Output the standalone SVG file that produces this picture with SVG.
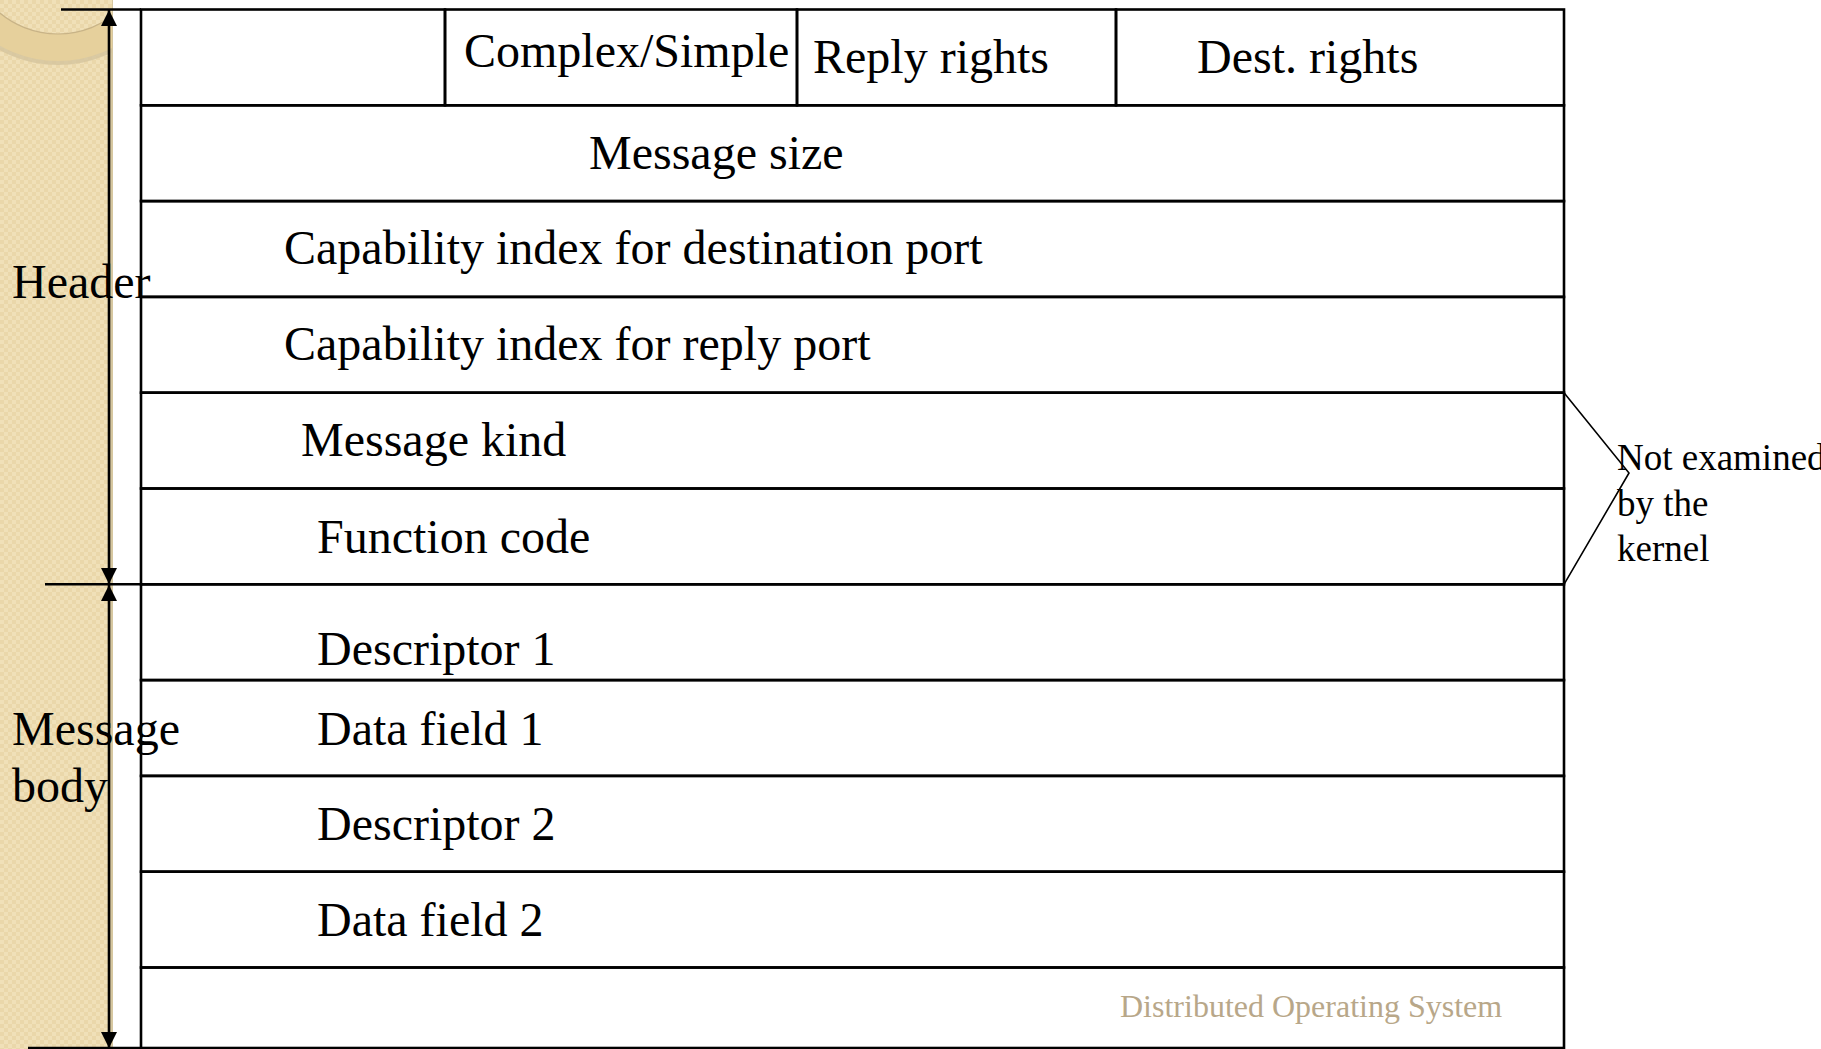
<svg xmlns="http://www.w3.org/2000/svg" width="1821" height="1049" viewBox="0 0 1821 1049">
  <style>
    .ln { stroke: #000; stroke-width: 2.6; fill: none; }
    .t { font-family: "Liberation Serif", "Times New Roman", serif; font-size: 48px; fill: #000; }
    .s { font-family: "Liberation Serif", "Times New Roman", serif; font-size: 37px; fill: #000; }
    .f { font-family: "Liberation Serif", "Times New Roman", serif; font-size: 32px; fill: #B8A789; }
  </style>
  <defs>
    <pattern id="chk" width="8" height="8" patternUnits="userSpaceOnUse">
      <rect width="8" height="8" fill="#F0E0B8"/>
      <rect width="4" height="4" fill="#EAD7AA"/>
      <rect x="4" y="4" width="4" height="4" fill="#EAD7AA"/>
    </pattern>
    <clipPath id="band"><rect x="0" y="0" width="112" height="1049"/></clipPath>
    <marker id="ah" viewBox="0 0 16 16" refX="16" refY="8" markerWidth="16" markerHeight="16" markerUnits="userSpaceOnUse" orient="auto-start-reverse">
      <path d="M0,0 L16,8 L0,16 z" fill="#000"/>
    </marker>
  </defs>

  <rect width="1821" height="1049" fill="#fff"/>

  <!-- decorative beige side band -->
  <g id="background">
    <rect x="0" y="0" width="112" height="1049" fill="url(#chk)"/>
    <rect x="109" y="0" width="4" height="1049" fill="#D6C7A0"/>
    <g clip-path="url(#band)">
      <circle cx="58" cy="-57" r="122" fill="#D3C39C" opacity="0.75"/>
      <circle cx="58" cy="-57" r="118" fill="#E6D09C"/>
      <circle cx="58" cy="-57" r="91" fill="url(#chk)" stroke="#C8B387" stroke-width="1.2"/>
    </g>
  </g>

  <!-- table cells -->
  <g id="row-flags">
    <rect x="141" y="9.5" width="304" height="95.8" class="ln"/>
    <rect x="445" y="9.5" width="352" height="95.8" class="ln"/>
    <text class="t" x="464" y="67">Complex/Simple</text>
    <rect x="797" y="9.5" width="319" height="95.8" class="ln"/>
    <text class="t" x="813" y="73">Reply rights</text>
    <rect x="1116" y="9.5" width="448" height="95.8" class="ln"/>
    <text class="t" x="1197" y="73">Dest. rights</text>
  </g>
  <g id="row-message-size">
    <rect x="141" y="105.3" width="1423" height="95.8" class="ln"/>
    <text class="t" x="589" y="169">Message size</text>
  </g>
  <g id="row-cap-dest">
    <rect x="141" y="201.1" width="1423" height="95.8" class="ln"/>
    <text class="t" x="284" y="264">Capability index for destination port</text>
  </g>
  <g id="row-cap-reply">
    <rect x="141" y="296.9" width="1423" height="95.8" class="ln"/>
    <text class="t" x="284" y="360">Capability index for reply port</text>
  </g>
  <g id="row-message-kind">
    <rect x="141" y="392.7" width="1423" height="95.8" class="ln"/>
    <text class="t" x="301" y="456">Message kind</text>
  </g>
  <g id="row-function-code">
    <rect x="141" y="488.5" width="1423" height="95.8" class="ln"/>
    <text class="t" x="317" y="553">Function code</text>
  </g>
  <g id="row-descriptor-1">
    <rect x="141" y="584.3" width="1423" height="95.8" class="ln"/>
    <text class="t" x="317" y="665">Descriptor 1</text>
  </g>
  <g id="row-data-field-1">
    <rect x="141" y="680.1" width="1423" height="95.8" class="ln"/>
    <text class="t" x="317" y="745">Data field 1</text>
  </g>
  <g id="row-descriptor-2">
    <rect x="141" y="775.9" width="1423" height="95.8" class="ln"/>
    <text class="t" x="317" y="840">Descriptor 2</text>
  </g>
  <g id="row-data-field-2">
    <rect x="141" y="871.7" width="1423" height="95.8" class="ln"/>
    <text class="t" x="317" y="936">Data field 2</text>
  </g>
  <g id="row-footer">
    <rect x="141" y="967.5" width="1423" height="80.5" class="ln"/>
    <text class="f" x="1120" y="1017">Distributed Operating System</text>
  </g>

  <!-- side labels -->
  <g id="label-header">
    <text class="t" x="12" y="298">Header</text>
  </g>
  <g id="label-body">
    <text class="t" x="12" y="745">Message</text>
    <text class="t" x="12" y="802">body</text>
  </g>
  <g id="label-not-examined">
    <text class="s" x="1617" y="470">Not examined</text>
    <text class="s" x="1617" y="516">by the</text>
    <text class="s" x="1617" y="561">kernel</text>
  </g>

  <!-- connectors -->
  <g id="connectors">
    <line x1="61" y1="9.5" x2="141" y2="9.5" class="ln"/>
    <line x1="45" y1="584.3" x2="141" y2="584.3" class="ln"/>
    <line x1="28" y1="1048" x2="141" y2="1048" class="ln"/>
    <line x1="109" y1="10" x2="109" y2="584" class="ln" marker-start="url(#ah)" marker-end="url(#ah)"/>
    <line x1="109" y1="585" x2="109" y2="1048" class="ln" marker-start="url(#ah)" marker-end="url(#ah)"/>
    <polyline points="1564,392.7 1629,473 1564,584.3" fill="none" stroke="#000" stroke-width="1.6"/>
  </g>
</svg>
